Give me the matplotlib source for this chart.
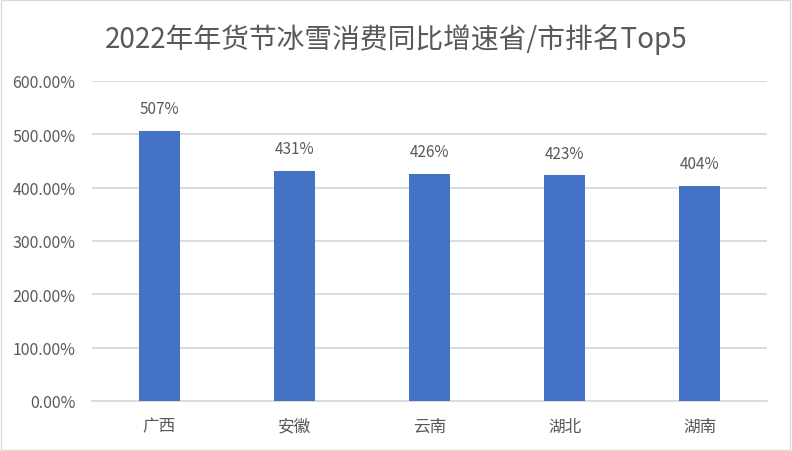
import matplotlib
matplotlib.use('Agg')
from matplotlib import pyplot as plt
from matplotlib.patches import Rectangle
from matplotlib.ticker import FuncFormatter

plt.rcParams['font.family'] = ['Noto Sans CJK SC', 'DejaVu Sans']

provinces = ['广西', '安徽', '云南', '湖北', '湖南']
growth = [507, 431, 426, 423, 404]   # 同比增速, %
labels = ['507%', '431%', '426%', '423%', '404%']
title = '2022年年货节冰雪消费同比增速省/市排名Top5'

fig = plt.figure(figsize=(7.92, 4.52), dpi=100)
ax = fig.add_axes([92/792, 1-402/452, 675/792, 320/452])

x = range(len(provinces))
ax.bar(x, growth, width=0.31, color='#4472C4', zorder=3)
for i, v in enumerate(growth):
    ax.text(i, v + 26, labels[i], ha='center', va='bottom', fontsize=11, color='#595959')

ax.set_xlim(-0.5, len(provinces) - 0.5)
ax.set_ylim(0, 600)
ax.set_yticks(range(0, 601, 100))
ax.yaxis.set_major_formatter(FuncFormatter(lambda v, p: '%.2f%%' % v))
ax.set_xticks(list(x))
ax.set_xticklabels(provinces)
ax.grid(axis='y', color='#D9D9D9', linewidth=1.3, zorder=0)
for s in ['top', 'right', 'left']:
    ax.spines[s].set_visible(False)
ax.spines['bottom'].set_color('#D9D9D9')
ax.spines['bottom'].set_linewidth(1.3)
ax.tick_params(axis='both', length=0, labelsize=11.5, labelcolor='#595959')
ax.tick_params(axis='x', pad=12, labelsize=12)
ax.tick_params(axis='y', pad=12)

fig.text(0.5, 1-40/452, title, ha='center', va='center', fontsize=20, color='#595959')
fig.patches.append(Rectangle((0.001, 0.002), 0.997, 0.996, transform=fig.transFigure,
                             fill=False, edgecolor='#D9D9D9', linewidth=1))

fig.savefig('out.png', dpi=100)
